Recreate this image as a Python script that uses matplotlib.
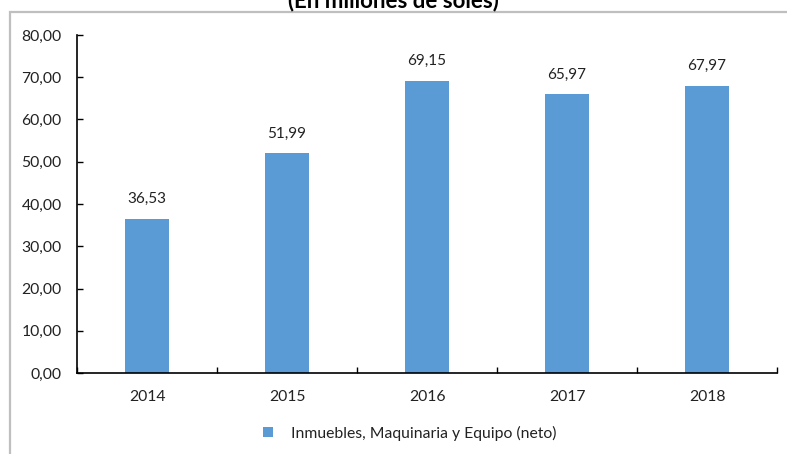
import matplotlib.pyplot as plt
from matplotlib.patches import Rectangle
import numpy as np

plt.rcParams['font.family'] = ['Lato', 'DejaVu Sans']

years = ['2014', '2015', '2016', '2017', '2018']
values = [36.53, 51.99, 69.15, 65.97, 67.97]
series_name = 'Inmuebles, Maquinaria y Equipo (neto)'
title = '(En millones de soles)'

W, H = 787, 454
fig = plt.figure(figsize=(W / 100, H / 100), dpi=100)

# outer chart frame
fig.patches.append(Rectangle((10 / W, -0.01), 1.0, 1 - 12 / H + 0.01,
                             transform=fig.transFigure, fill=False,
                             edgecolor='#bfbfbf', linewidth=1.6))

fig.text(393 / W, 1 - 1 / H, title, ha='center', va='center',
         fontsize=16, fontweight='bold', color='#000000')

ax = fig.add_axes([77 / W, 1 - 373 / H, 700 / W, 338 / H])
x = np.arange(len(years))
bars = ax.bar(x, values, width=0.315, color='#5b9bd5', label=series_name, zorder=2)

for xi, v in zip(x, values):
    ax.text(xi, v + 3.0, f'{v:.2f}'.replace('.', ','), ha='center', va='bottom',
            fontsize=11, color='#222222')

ax.set_xlim(-0.5, len(years) - 0.5)
ax.set_ylim(0, 80)
ax.set_yticks(np.arange(0, 81, 10))
ax.set_yticklabels([f'{t:.2f}'.replace('.', ',') for t in np.arange(0, 81, 10)])
ax.set_xticks(x)
ax.set_xticklabels(years)
ax.set_xticks(np.arange(-0.5, len(years), 1), minor=True)

ax.tick_params(axis='y', direction='in', length=4, width=1, labelsize=11.3,
               pad=11, colors='#000000', labelcolor='#222222')
ax.tick_params(axis='x', which='major', length=0, labelsize=11.3, pad=12,
               labelcolor='#222222')
ax.tick_params(axis='x', which='minor', direction='in', length=4, width=1)

for side in ['top', 'right']:
    ax.spines[side].set_visible(False)
for side in ['left', 'bottom']:
    ax.spines[side].set_color('#000000')
    ax.spines[side].set_linewidth(1.2)

fig.legend(handles=[bars], labels=[series_name], loc='center',
           bbox_to_anchor=(410 / W, 1 - 433 / H), frameon=False,
           fontsize=11.3, handlelength=0.6, handleheight=0.6, handletextpad=1.2,
           labelcolor='#222222')

fig.savefig('out.png', dpi=100)
